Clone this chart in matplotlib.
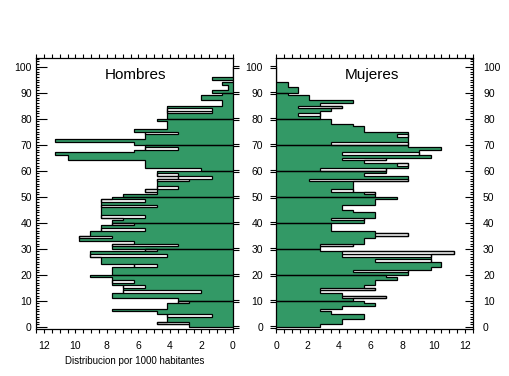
import numpy as np
import matplotlib.pyplot as plt
from matplotlib.path import Path
from matplotlib.ticker import MultipleLocator

plt.rcParams['font.family'] = ['Liberation Sans', 'DejaVu Sans']

# distribucion por 1000 habitantes, edades 0..99 (un valor por edad)
hombres = [2.8, 4.8, 4.2, 4.2, 4.2, 4.8, 7.7, 4.2, 4.2, 3.5,
           3.5, 7.7, 7.7, 7.0, 7.0, 7.0, 7.7, 7.7, 7.7, 9.1,
           7.7, 7.7, 7.7, 6.3, 8.4, 8.4, 8.4, 9.1, 9.1, 5.6,
           7.7, 7.7, 6.3, 9.8, 9.8, 9.1, 9.1, 8.4, 8.4, 7.7,
           7.7, 7.0, 8.4, 8.4, 8.4, 8.4, 8.4, 8.4, 8.4, 7.7,
           7.0, 4.8, 5.6, 4.8, 4.8, 4.8, 4.8, 3.5, 4.8, 4.8,
           2.0, 5.6, 5.6, 5.6, 10.5, 10.5, 11.3, 6.3, 5.6, 5.6,
           6.3, 11.3, 5.6, 5.6, 5.6, 6.3, 4.2, 4.2, 4.2, 4.8,
           4.2, 4.2, 4.2, 4.2, 4.2, 0.7, 0.7, 2.0, 2.0, 0.7,
           1.35, 0.3, 0.3, 0.7, 0.0, 1.35, 0.0, 0.0, 0.0, 0.0]
# edades donde el relleno verde se corta y queda una franja blanca
hombres_hueco_edad = [1, 4, 9, 13, 15, 17, 23, 27, 29, 31, 34, 37, 39, 42,
                      46, 48, 52, 53, 56, 57, 58, 68, 74, 82, 83]
hombres_hueco_desde = [2.8, 1.35, 2.8, 2.0, 5.6, 6.3, 4.8, 4.2, 4.8, 3.5, 7.7, 5.6, 6.3, 5.6,
                       4.8, 5.6, 4.8, 3.5, 2.8, 1.35, 3.5, 3.5, 3.5, 1.35, 1.35]

mujeres = [2.8, 4.2, 4.2, 5.6, 5.6, 3.5, 2.8, 4.2, 6.3, 5.6,
           4.9, 7.0, 4.2, 2.8, 6.3, 5.6, 6.3, 6.3, 7.7, 7.0,
           8.4, 8.4, 9.85, 10.5, 10.5, 9.85, 9.85, 9.85, 11.3, 2.8,
           2.8, 4.9, 5.6, 5.6, 6.3, 8.4, 6.3, 3.5, 3.5, 3.5,
           5.6, 5.6, 6.3, 6.3, 4.9, 4.2, 4.2, 6.3, 6.3, 7.7,
           6.3, 6.3, 4.9, 4.9, 4.9, 4.9, 8.4, 8.4, 5.6, 7.0,
           7.0, 8.4, 8.4, 5.6, 7.0, 9.85, 9.1, 9.1, 10.5, 8.4,
           8.4, 8.4, 8.4, 8.4, 8.4, 5.6, 5.6, 4.9, 3.5, 3.5,
           2.8, 2.8, 2.8, 3.5, 4.2, 2.8, 4.9, 2.1, 2.1, 0.75,
           1.4, 1.4, 0.75, 0.75, 0.0, 0.0, 0.0, 0.0, 0.0, 0.0]
mujeres_hueco_edad = [11, 14, 21, 25, 27, 28, 31, 35, 41, 51, 52, 56,
                      60, 62, 64, 66, 70, 73, 81, 84]
mujeres_hueco_desde = [4.2, 2.8, 4.9, 6.3, 4.2, 4.2, 2.8, 6.3, 3.5, 5.6, 3.5, 2.1,
                       2.8, 7.7, 4.2, 4.2, 3.5, 7.7, 1.4, 1.4]

verde = '#339966'
decadas = np.arange(0, 101, 10)

igual_der = Path([(0, 0.22), (1, 0.22), (0, -0.22), (1, -0.22)],
                 [Path.MOVETO, Path.LINETO, Path.MOVETO, Path.LINETO])
igual_izq = Path([(0, 0.22), (-1, 0.22), (0, -0.22), (-1, -0.22)],
                 [Path.MOVETO, Path.LINETO, Path.MOVETO, Path.LINETO])


def piramide(ax, valores, hueco_edad, hueco_desde):
    valores = np.asarray(valores, float)
    relleno = valores.copy()
    relleno[hueco_edad] = hueco_desde
    bordes = np.arange(len(valores) + 1)
    ax.fill_betweenx(bordes, 0, np.append(relleno, relleno[-1]), step='post',
                     color=verde, lw=0)
    ax.barh(hueco_edad, valores[hueco_edad] - np.asarray(hueco_desde), left=hueco_desde,
            height=1, align='edge', color='white', edgecolor='black', lw=0.9)
    # contorno escalonado, un poligono por decada
    for d in range(0, 100, 10):
        v = valores[d:d + 10]
        xs = np.concatenate([[0], np.repeat(v, 2), [0]])
        ys = np.concatenate([[d], np.column_stack([np.arange(d, d + 10),
                                                   np.arange(d + 1, d + 11)]).ravel(), [d + 10]])
        ax.plot(xs, ys, color='black', lw=0.9, solid_joinstyle='miter')

    ax.set_ylim(-0.8, 103.3)
    ax.set_xticks(np.arange(0, 13, 2))
    ax.xaxis.set_minor_locator(MultipleLocator(0.5))
    ax.tick_params(axis='x', which='both', top=True, direction='out', length=2.6,
                   width=0.8, labelsize=7.5, pad=6)
    ax.set_yticks(decadas)
    ax.yaxis.set_minor_locator(MultipleLocator(1))
    for s in ax.spines.values():
        s.set_linewidth(0.9)


fig = plt.figure(figsize=(5.09, 3.76), dpi=100)
ax_h = fig.add_axes([36 / 509, 47 / 376, 197 / 509, 271 / 376])
ax_m = fig.add_axes([276 / 509, 47 / 376, 197 / 509, 271 / 376])

piramide(ax_h, hombres, hombres_hueco_edad, hombres_hueco_desde)
ax_h.set_xlim(12.5, 0)
ax_h.tick_params(axis='y', which='both', direction='in', left=True, right=False,
                 labelsize=7.5, pad=3, width=0.8)
ax_h.tick_params(axis='y', which='major', length=8)
ax_h.tick_params(axis='y', which='minor', length=2.2)
ax_h.plot(np.ones(len(decadas)), decadas, transform=ax_h.get_yaxis_transform(),
          marker=igual_der, ms=8.5, ls='none', color='black', mew=0.8, clip_on=False)
ax_h.text(0.503, 0.937, 'Hombres', transform=ax_h.transAxes, ha='center', va='center',
          fontsize=11)
ax_h.set_xlabel('Distribucion por 1000 habitantes', fontsize=7, labelpad=4)

piramide(ax_m, mujeres, mujeres_hueco_edad, mujeres_hueco_desde)
ax_m.set_xlim(0, 12.5)
ax_m.tick_params(axis='y', which='both', direction='in', left=False, right=True,
                 labelleft=False, labelright=True, labelsize=7.5, pad=7.2, width=0.8)
ax_m.tick_params(axis='y', which='major', length=6)
ax_m.tick_params(axis='y', which='minor', length=2.2)
eje_izq = ax_m.secondary_yaxis('left')
eje_izq.set_yticks(decadas)
eje_izq.tick_params(length=0, pad=9.4, labelsize=7.5)
eje_izq.spines['left'].set_visible(False)
ax_m.plot(np.zeros(len(decadas)), decadas, transform=ax_m.get_yaxis_transform(),
          marker=igual_izq, ms=8.5, ls='none', color='black', mew=0.8, clip_on=False)
ax_m.text(0.487, 0.937, 'Mujeres', transform=ax_m.transAxes, ha='center', va='center',
          fontsize=11)

fig.savefig('out.png', dpi=100)
